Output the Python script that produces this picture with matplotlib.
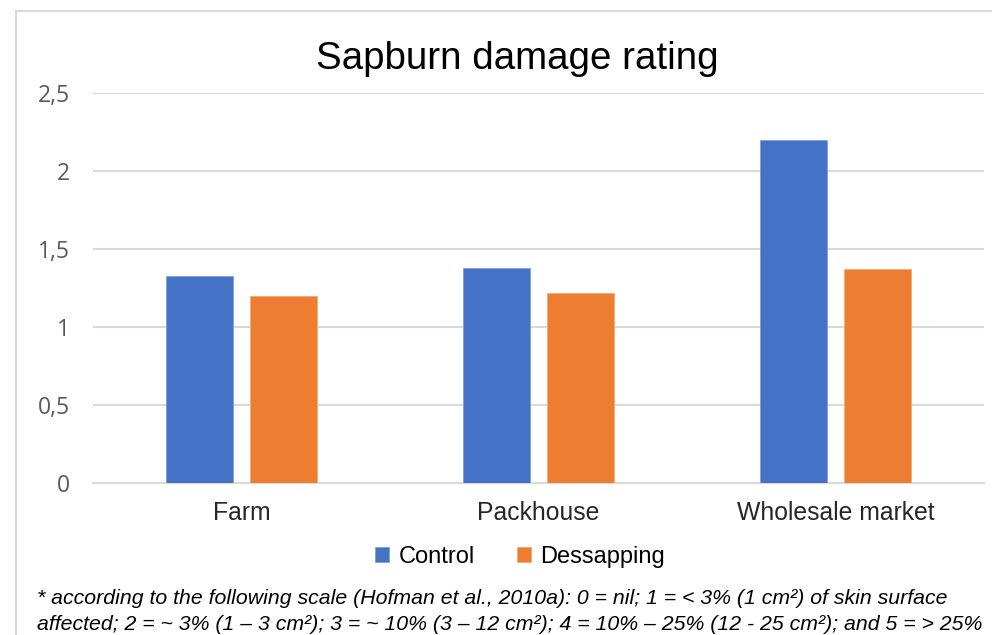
import matplotlib.pyplot as plt
import numpy as np
from matplotlib.patches import Rectangle
from matplotlib.ticker import FuncFormatter

# data
categories = ["Farm", "Packhouse", "Wholesale market"]
control = [1.33, 1.38, 2.20]
dessapping = [1.20, 1.22, 1.37]
yticks = [0, 0.5, 1, 1.5, 2, 2.5]

blue = "#4472c4"
orange = "#ed7d31"
grid_col = "#d9d9d9"
txt_col = "#595959"

fig = plt.figure(figsize=(9.92, 6.35), dpi=100)

# chart border (cut off on right/bottom like the screenshot)
fig.patches.append(Rectangle((16 / 992, -0.2), 1.2, 1 - 11 / 635 + 0.2,
                             transform=fig.transFigure, fill=False,
                             edgecolor=grid_col, linewidth=1.5))

ax = fig.add_axes([93 / 992, 1 - 483 / 635, (984 - 93) / 992, (483 - 93) / 635])
x = np.arange(len(categories))
w = 0.226
ax.bar(x - 0.142, control, w, color=blue, label="Control", zorder=3,
       edgecolor="#7f9fdc", linewidth=0.6)
ax.bar(x + 0.142, dessapping, w, color=orange, label="Dessapping", zorder=3,
       edgecolor="#f4a974", linewidth=0.6)

ax.set_xlim(-0.5, 2.5)
ax.set_ylim(0, 2.5)
ax.set_yticks(yticks)
ax.yaxis.set_major_formatter(FuncFormatter(lambda v, p: f"{v:g}".replace(".", ",")))
ax.set_xticks(x)
ax.set_xticklabels(categories, fontsize=17.8, color="#262626", family="Liberation Sans")
for lab in ax.get_yticklabels():
    lab.set_fontsize(16.5)
    lab.set_color(txt_col)
    lab.set_family("Open Sans")
ax.tick_params(axis="both", length=0)
ax.tick_params(axis="y", pad=16.5)
ax.tick_params(axis="x", pad=13)
ax.grid(axis="y", color=grid_col, linewidth=1.5, zorder=0)
for s in ["top", "right", "left"]:
    ax.spines[s].set_visible(False)
ax.spines["bottom"].set_color(grid_col)
ax.spines["bottom"].set_linewidth(1.5)

fig.text(517 / 992, 1 - 59 / 635, "Sapburn damage rating", ha="center", va="center",
         fontsize=27.7, color="#000000", family="Liberation Sans")

leg = fig.legend(loc="center", bbox_to_anchor=(520 / 992, 1 - 557 / 635), ncol=2,
                 frameon=False, handlelength=0.6, handleheight=0.6,
                 handletextpad=0.4, columnspacing=1.8,
                 prop={"family": "Liberation Sans", "size": 17})

note1 = "* according to the following scale (Hofman et al., 2010a): 0 = nil; 1 = < 3% (1 cm\u00b2) of skin surface"
note2 = "affected; 2 = ~ 3% (1 \u2013 3 cm\u00b2); 3 = ~ 10% (3 \u2013 12 cm\u00b2); 4 = 10% \u2013 25% (12 - 25 cm\u00b2); and 5 = > 25%"
fig.text(37 / 992, 1 - 598 / 635, note1, ha="left", va="center", fontsize=15.3,
         style="italic", family="Liberation Sans")
fig.text(37 / 992, 1 - 624 / 635, note2, ha="left", va="center", fontsize=15.3,
         style="italic", family="Liberation Sans")

fig.savefig("out.png", dpi=100)
